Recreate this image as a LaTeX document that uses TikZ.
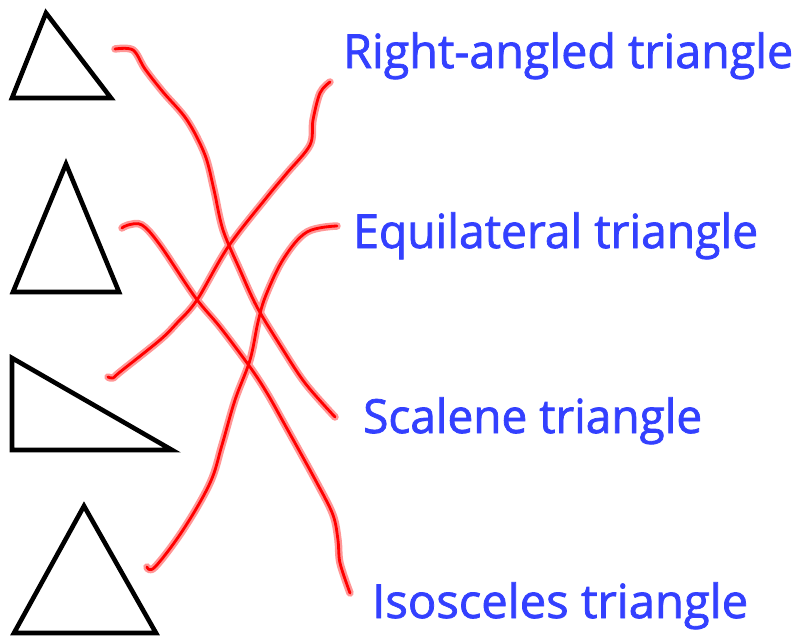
\documentclass[tikz,border=0pt]{standalone}
\usepackage{fontspec}
\setmainfont{Open Sans}
\newfontfamily\lblfont{Open Sans}[FakeBold=1.6]
\usepackage{graphicx}
\definecolor{lblblue}{RGB}{51,64,255}
\definecolor{halo}{RGB}{255,150,150}
\tikzset{
  trishape/.style={draw=black, line width=4.6pt, line join=miter},
  lbl/.style={anchor=base west, inner sep=0pt, text=lblblue, font=\lblfont\fontsize{47}{50}\selectfont},
  halostroke/.style={draw=halo, line width=7.5pt, line cap=round, line join=round},
  corestroke/.style={draw=red, line width=2.8pt, line cap=round, line join=round},
}
\newcommand{\linkA}{plot[smooth, tension=0.55] coordinates {(a1) (133,50) (145,69) (163,92) (187,120) (205,155) (214,190) (223,230) (240,270) (257,307) (280,345) (305,383) (a2)}}
\newcommand{\linkB}{plot[smooth, tension=0.55] coordinates {(b1) (113,378) (120,372) (160,340) (177,323) (197,300) (228,247) (267,197) (287,173) (310,145) (313,120) (320,93) (b2)}}
\newcommand{\linkC}{plot[smooth, tension=0.55] coordinates {(c1) (128,225) (142,225) (160,245) (195,297) (220,327) (250,367) (267,393) (285,425) (317,483) (333,515) (338,540) (340,563) (c2)}}
\newcommand{\linkD}{plot[smooth, tension=0.6] coordinates {(d1) (155,567) (183,530) (210,483) (222,445) (235,400) (250,360) (258,322) (266,295) (284,258) (307,232) (d2)}}
\begin{document}
\begin{tikzpicture}[x=1pt, y=-1pt]
\useasboundingbox (0,0) rectangle (801,642);
% triangles
\draw[trishape] (46,13) -- (12,98) -- (111,98) -- cycle;
\draw[trishape] (66,164) -- (13,292) -- (119,292) -- cycle;
\draw[trishape] (12,358) -- (12,450) -- (172,450) -- cycle;
\draw[trishape] (84,506) -- (14,633) -- (156,633) -- cycle;
% labels
\node[lbl] (right) at (343,68) {\resizebox{450pt}{\height}{Right-angled triangle}};
\node[lbl] (equi) at (353,248) {\resizebox{405pt}{\height}{Equilateral triangle}};
\node[lbl] (scal) at (363,433) {\resizebox{339pt}{\height}{Scalene triangle}};
\node[lbl] (isos) at (372,618) {\resizebox{376pt}{\height}{Isosceles triangle}};
% connector ends
\coordinate (a1) at (115,49);  \coordinate (a2) at (335,417);
\coordinate (b1) at (108,377); \coordinate (b2) at (330,82);
\coordinate (c1) at (122,228); \coordinate (c2) at (350,593);
\coordinate (d1) at (147,567); \coordinate (d2) at (337,226);
% halos
\draw[halostroke] \linkA;
\draw[halostroke] \linkB;
\draw[halostroke] \linkC;
\draw[halostroke] \linkD;
% cores
\draw[corestroke] \linkA;
\draw[corestroke] \linkB;
\draw[corestroke] \linkC;
\draw[corestroke] \linkD;
\end{tikzpicture}
\end{document}
